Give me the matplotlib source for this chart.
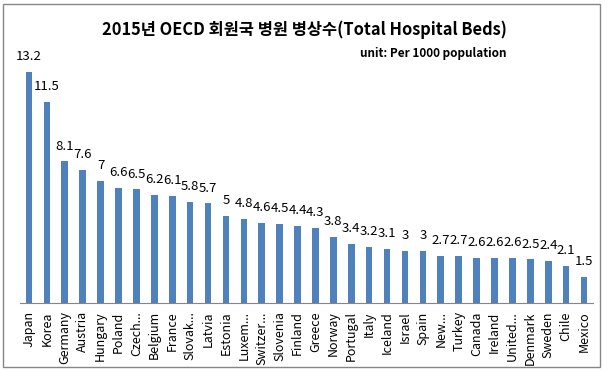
import matplotlib
matplotlib.use("Agg")
import matplotlib.pyplot as plt
from matplotlib.patches import Rectangle

plt.rcParams['font.family'] = ['Noto Sans CJK KR', 'DejaVu Sans']

countries = ["Japan", "Korea", "Germany", "Austria", "Hungary", "Poland", "Czech...",
             "Belgium", "France", "Slovak...", "Latvia", "Estonia", "Luxem...", "Switzer...",
             "Slovenia", "Finland", "Greece", "Norway", "Portugal", "Italy", "Iceland",
             "Israel", "Spain", "New...", "Turkey", "Canada", "Ireland", "United...",
             "Denmark", "Sweden", "Chile", "Mexico"]
values = [13.2, 11.5, 8.1, 7.6, 7, 6.6, 6.5, 6.2, 6.1, 5.8, 5.7, 5, 4.8, 4.6, 4.5,
          4.4, 4.3, 3.8, 3.4, 3.2, 3.1, 3, 3, 2.7, 2.7, 2.6, 2.6, 2.6, 2.5, 2.4, 2.1, 1.5]
title = "2015년 OECD 회원국 병원 병상수(Total Hospital Beds)"
unit_text = "unit: Per 1000 population"

W, H = 609, 371
fig = plt.figure(figsize=(W / 100, H / 100), dpi=100)

left, right, bottom_px, top_px = 20, 593, 303, 58
ax = fig.add_axes([left / W, 1 - bottom_px / H, (right - left) / W, (bottom_px - top_px) / H])

x = list(range(len(values)))
ax.bar(x, values, width=0.37, color="#4F81BD")
for xi, v in zip(x, values):
    ax.text(xi, v + 0.5, f"{v:g}", ha="center", va="bottom", fontsize=9.5, color="black")

ax.set_xlim(-0.5, len(values) - 0.5)
ax.set_ylim(0, 14)
ax.set_xticks(x)
ax.set_xticklabels(countries, rotation=90, fontsize=9, ha="center", va="top")
ax.tick_params(axis="x", length=0, pad=6)
ax.set_yticks([])
for s in ["top", "right", "left"]:
    ax.spines[s].set_visible(False)
ax.spines["bottom"].set_color("#868686")
ax.set_facecolor("none")

fig.text(304 / W, 1 - 30 / H, title, ha="center", va="center", fontsize=11.8,
         fontweight="bold")
fig.text(507 / W, 1 - 53 / H, unit_text, ha="right", va="center", fontsize=8.5,
         fontweight="bold")

fig.patches.append(Rectangle((3 / W, 1 - 367 / H), 597 / W, 363 / H,
                             transform=fig.transFigure, fill=False,
                             edgecolor="#868686", linewidth=1))

fig.savefig("out.png", dpi=100)
